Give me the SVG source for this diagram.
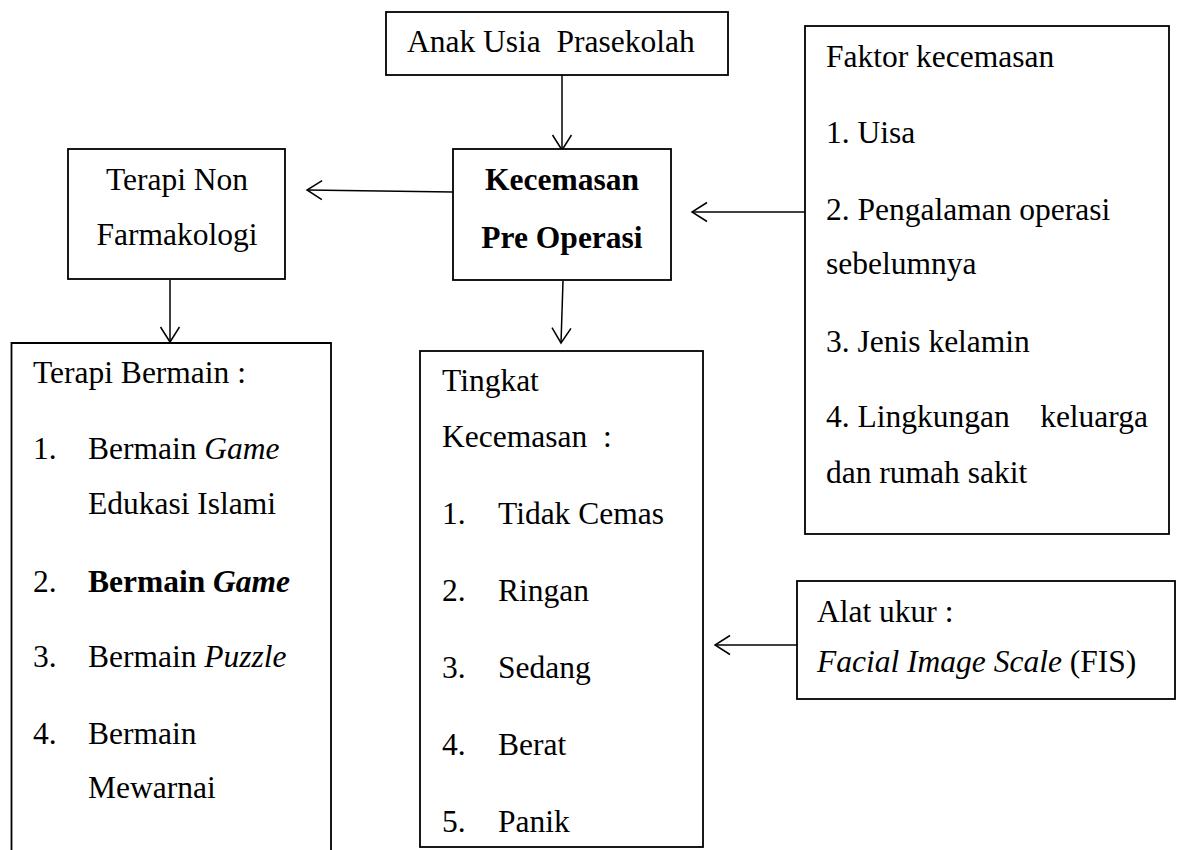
<svg xmlns="http://www.w3.org/2000/svg" width="1180" height="850" viewBox="0 0 1180 850">
<defs>
<style>
.box{fill:#fff;stroke:#000;stroke-width:1.8}
.t{font-family:"Liberation Serif","Times New Roman",Times,serif;font-size:31.5px;fill:#000}
.b{font-weight:bold}
.i{font-style:italic}
.c{text-anchor:middle}
.conn{fill:none;stroke:#000;stroke-width:1.5}
</style>
<marker id="arr" viewBox="-17 -11 19 22" markerWidth="19" markerHeight="22" refX="0" refY="0" orient="auto" markerUnits="userSpaceOnUse">
<path d="M-15,-9.5 L0,0 L-15,9.5" fill="none" stroke="#000" stroke-width="1.5"/>
</marker>
</defs>
<rect width="1180" height="850" fill="#fff"/>

<g id="connectors">
<path class="conn" d="M562,75 L562,150" marker-end="url(#arr)"/>
<path class="conn" d="M453,192 L307,190" marker-end="url(#arr)"/>
<path class="conn" d="M170,280 L170,342" marker-end="url(#arr)"/>
<path class="conn" d="M563,281 L561,343" marker-end="url(#arr)"/>
<path class="conn" d="M805,212 L692,212" marker-end="url(#arr)"/>
<path class="conn" d="M797,645 L715,645" marker-end="url(#arr)"/>
</g>

<g id="anak-usia">
<rect class="box" x="386" y="12" width="342" height="63"/>
<text class="t" x="407" y="52" xml:space="preserve">Anak Usia  Prasekolah</text>
</g>

<g id="kecemasan-pre-operasi">
<rect class="box" x="453" y="149" width="218" height="131"/>
<text class="t b c" x="562" y="190">Kecemasan</text>
<text class="t b c" x="562" y="248">Pre Operasi</text>
</g>

<g id="terapi-non-farmakologi">
<rect class="box" x="68" y="149" width="217" height="130"/>
<text class="t c" x="177" y="190">Terapi Non</text>
<text class="t c" x="177" y="245">Farmakologi</text>
</g>

<g id="terapi-bermain">
<path class="box" d="M11.5,860 V343 H331 V860"/>
<text class="t" x="33" y="383">Terapi Bermain :</text>
<text class="t" x="33" y="459">1.</text>
<text class="t" x="88" y="459">Bermain <tspan class="i">Game</tspan></text>
<text class="t" x="88" y="514">Edukasi Islami</text>
<text class="t" x="33" y="592">2.</text>
<text class="t b" x="88" y="592">Bermain <tspan class="i">Game</tspan></text>
<text class="t" x="33" y="667">3.</text>
<text class="t" x="88" y="667">Bermain <tspan class="i">Puzzle</tspan></text>
<text class="t" x="33" y="744">4.</text>
<text class="t" x="88" y="744">Bermain</text>
<text class="t" x="88" y="798">Mewarnai</text>
</g>

<g id="tingkat-kecemasan">
<rect class="box" x="420" y="351" width="283" height="496"/>
<text class="t" x="442" y="391">Tingkat</text>
<text class="t" x="442" y="447" xml:space="preserve">Kecemasan  :</text>
<text class="t" x="442" y="524">1.</text>
<text class="t" x="498" y="524">Tidak Cemas</text>
<text class="t" x="442" y="601">2.</text>
<text class="t" x="498" y="601">Ringan</text>
<text class="t" x="442" y="678">3.</text>
<text class="t" x="498" y="678">Sedang</text>
<text class="t" x="442" y="755">4.</text>
<text class="t" x="498" y="755">Berat</text>
<text class="t" x="442" y="832">5.</text>
<text class="t" x="498" y="832">Panik</text>
</g>

<g id="faktor-kecemasan">
<rect class="box" x="805" y="26" width="364" height="508"/>
<text class="t" x="826" y="67">Faktor kecemasan</text>
<text class="t" x="826" y="143">1. Uisa</text>
<text class="t" x="826" y="220">2. Pengalaman operasi</text>
<text class="t" x="826" y="274">sebelumnya</text>
<text class="t" x="826" y="352">3. Jenis kelamin</text>
<text class="t" x="826" y="427">4. Lingkungan</text>
<text class="t" x="1148" y="427" text-anchor="end">keluarga</text>
<text class="t" x="826" y="483">dan rumah sakit</text>
</g>

<g id="alat-ukur">
<rect class="box" x="797" y="581" width="378" height="118"/>
<text class="t" x="817" y="622">Alat ukur :</text>
<text class="t" x="817" y="672"><tspan class="i">Facial Image Scale</tspan> (FIS)</text>
</g>
</svg>
